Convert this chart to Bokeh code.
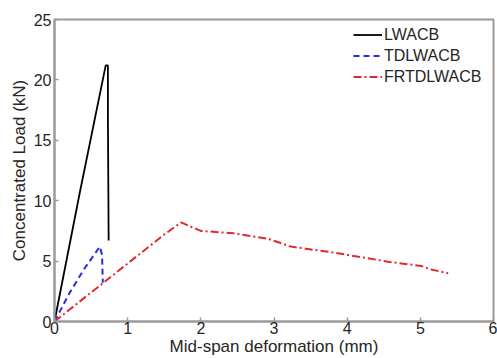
from bokeh.plotting import figure
from bokeh.models import Legend, LegendItem, FixedTicker, Range1d
from bokeh.embed import file_html
from bokeh.resources import INLINE

# Data
lwacb_x = [0.0, 0.35, 0.70, 0.73, 0.73, 0.74]
lwacb_y = [0.0, 10.8, 21.2, 21.2, 16.8, 6.7]

tdlwacb_x = [0.0, 0.20, 0.40, 0.62, 0.65, 0.66]
tdlwacb_y = [0.0, 2.3, 4.3, 6.2, 5.5, 3.2]

frt_x = [0.0, 0.5, 1.0, 1.5, 1.73, 2.0, 2.45, 2.92, 3.23, 3.82, 4.56, 5.01, 5.15, 5.38]
frt_y = [0.0, 2.4, 4.8, 7.2, 8.2, 7.5, 7.3, 6.85, 6.2, 5.7, 4.95, 4.6, 4.3, 4.0]

x_ticks = [0, 1, 2, 3, 4, 5, 6]
y_ticks = [0, 5, 10, 15, 20, 25]

FONT = "Liberation Sans"
AX = "#9a9a9a"
TXT = "#262626"

p = figure(width=497, height=358, output_backend="svg", toolbar_location=None,
           x_range=Range1d(0, 6), y_range=Range1d(0, 25),
           min_border_left=54, min_border_right=4, min_border_top=19, min_border_bottom=36)
p.grid.visible = False
p.outline_line_color = AX
p.outline_line_width = 2
p.background_fill_color = "white"

r1 = p.line(lwacb_x, lwacb_y, line_color="black", line_width=1.8)
r2 = p.line(tdlwacb_x, tdlwacb_y, line_color="#2a2ae0", line_width=2, line_dash="6 4")
r3 = p.line(frt_x, frt_y, line_color="#e02a2a", line_width=2, line_dash="8 3 2 3")

xax = p.xaxis[0]
yax = p.yaxis[0]
xax.ticker = FixedTicker(ticks=x_ticks)
yax.ticker = FixedTicker(ticks=y_ticks)

for ax in [xax, yax]:
    ax.axis_line_color = AX
    ax.axis_line_width = 2
    ax.major_tick_line_color = AX
    ax.major_tick_line_width = 1.5
    ax.major_tick_in = 4
    ax.major_tick_out = 0
    ax.minor_tick_line_color = None
    ax.major_label_text_font = FONT
    ax.major_label_text_font_size = "16px"
    ax.major_label_text_color = TXT
    ax.axis_label_text_font = FONT
    ax.axis_label_text_font_size = "17px"
    ax.axis_label_text_font_style = "normal"
    ax.axis_label_text_color = TXT

xax.axis_label = "Mid-span deformation (mm)"
xax.axis_label_standoff = 0
xax.major_label_standoff = 0
yax.axis_label = "Concentrated Load (kN)"
yax.axis_label_standoff = 2
yax.major_label_standoff = 3

legend = Legend(items=[LegendItem(label="LWACB", renderers=[r1]),
                       LegendItem(label="TDLWACB", renderers=[r2]),
                       LegendItem(label="FRTDLWACB", renderers=[r3])],
                location=(299, 234), border_line_color=None, background_fill_alpha=0,
                label_text_font=FONT, label_text_font_size="16px", label_text_color=TXT,
                glyph_width=29, label_standoff=2, label_height=21, glyph_height=21,
                spacing=0, padding=0, margin=0)
p.add_layout(legend)

open("out.html", "w").write(file_html(p, INLINE))
